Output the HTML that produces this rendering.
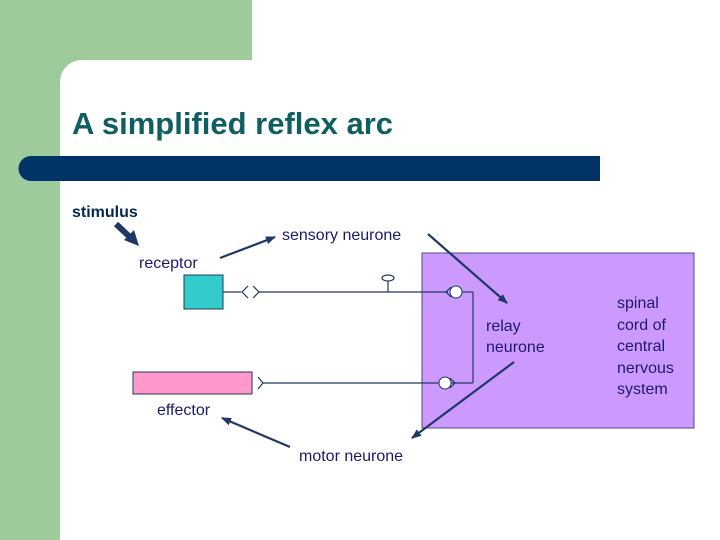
<!DOCTYPE html>
<html><head><style>
body{margin:0;width:720px;height:540px;overflow:hidden;background:#fff}
svg{display:block;font-family:"Liberation Sans",Arial,sans-serif}
</style></head><body>
<svg width="720" height="540" viewBox="0 0 720 540">
<defs>
<marker id="a" markerWidth="10" markerHeight="8" refX="9" refY="4" orient="auto" markerUnits="userSpaceOnUse"><path d="M0,0 L10,4 L0,8z" fill="#1F3864"/></marker>
</defs>
<rect x="0" y="0" width="720" height="540" fill="#fff"/>
<rect x="0" y="0" width="60" height="540" fill="#9DCB9B"/>
<rect x="0" y="0" width="252" height="60" fill="#9DCB9B"/>
<path d="M60,60 L82,60 A22,22 0 0 0 60,82 Z" fill="#9DCB9B"/>
<text x="72" y="134" font-size="31" font-weight="bold" fill="#0E5E62">A simplified reflex arc</text>
<path d="M31,156 L600,156 L600,181 L31,181 A12.5,12.5 0 0 1 31,156Z" fill="#003366"/>
<text x="72" y="217" font-size="16" font-weight="bold" fill="#002850">stimulus</text>
<line x1="116" y1="224" x2="132" y2="239" stroke="#1F3864" stroke-width="6"/>
<path d="M139,246 L124,240 L134,230Z" fill="#1F3864"/>
<rect x="422" y="253" width="272" height="175" fill="#CC99FF" stroke="#4A4A8A" stroke-width="1"/>
<g font-size="16" fill="#1A1A6E">
<text x="282" y="240">sensory neurone</text>
<text x="139" y="268">receptor</text>
<text x="486" y="331">relay</text><text x="486" y="352">neurone</text>
<text x="617" y="308">spinal</text><text x="617" y="330">cord of</text><text x="617" y="351">central</text><text x="617" y="373">nervous</text><text x="617" y="394">system</text>
<text x="157" y="415">effector</text>
<text x="299" y="461">motor neurone</text>
</g>
<rect x="184" y="275" width="39" height="34" fill="#33CCCC" stroke="#1F3864" stroke-width="1"/>
<rect x="133" y="372" width="119" height="22" fill="#FF99CC" stroke="#1F3864" stroke-width="1"/>
<g stroke="#1F3864" stroke-width="1.2" fill="none">
<line x1="223" y1="292" x2="241" y2="292"/>
<path d="M248,286 L242,292 L248,298 M253,286 L259,292 L253,298"/>
<line x1="259" y1="292" x2="448" y2="292"/>
<line x1="388" y1="292" x2="388" y2="281"/>
<ellipse cx="388" cy="278" rx="6" ry="3" fill="#fff"/>
<path d="M451,287 L446,292 L451,297"/>
<line x1="462" y1="292" x2="473" y2="292"/>
<line x1="473" y1="292" x2="473" y2="383"/>
<line x1="473" y1="383" x2="451" y2="383"/>
<path d="M450,378 L455,383 L450,388"/>
<line x1="262" y1="383" x2="439" y2="383"/>
<path d="M258,377 L263,383 L258,389"/>
</g>
<circle cx="456" cy="292" r="6" fill="#fff" stroke="#1F3864"/>
<circle cx="445" cy="383" r="6" fill="#fff" stroke="#1F3864"/>
<g stroke="#1F3864" stroke-width="2.2">
<line x1="220" y1="258" x2="275" y2="237" marker-end="url(#a)"/>
<line x1="428" y1="234" x2="507" y2="303" marker-end="url(#a)"/>
<line x1="514" y1="362" x2="412" y2="438" marker-end="url(#a)"/>
<line x1="290" y1="447" x2="222" y2="418" marker-end="url(#a)"/>
</g>
</svg>
</body></html>
